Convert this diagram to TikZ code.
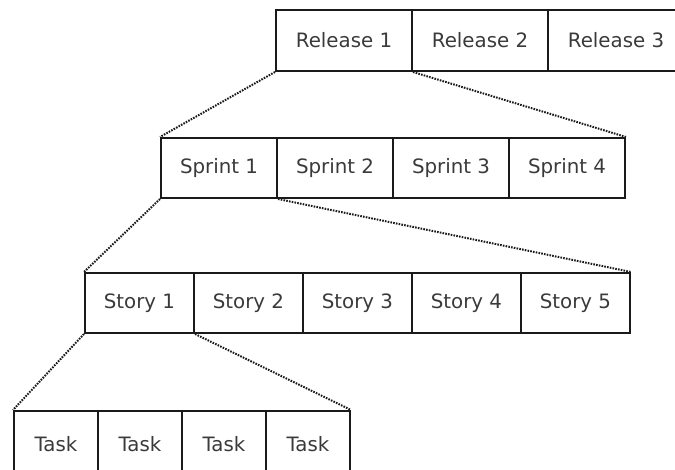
\documentclass[tikz,border=0pt]{standalone}
\usepackage{fontspec}
\setmainfont{DejaVu Sans}
\definecolor{boxtext}{HTML}{3A3A3A}
\definecolor{boxline}{HTML}{1A1A1A}
\begin{document}
\begin{tikzpicture}[x=1pt,y=-1pt,
  cell/.style={draw=boxline, line width=2pt, rectangle, inner sep=0pt,
    anchor=north west, text=boxtext, font=\fontsize{19.8}{22}\selectfont},
  relcell/.style={cell, minimum width=136pt, minimum height=61pt},
  sprcell/.style={cell, minimum width=116pt, minimum height=60pt},
  stocell/.style={cell, minimum width=109pt, minimum height=60pt},
  taskcell/.style={cell, minimum width=84pt, minimum height=66pt},
  link/.style={draw=boxline, line width=2pt, dash pattern=on 1.6pt off 1.2pt}]
\useasboundingbox (0,0) rectangle (675,470);
\clip (0,0) rectangle (675,470);

% releases
\node[relcell] (r1) at (275,9) {Release 1};
\node[relcell] (r2) at (411,9) {Release 2};
\node[relcell] (r3) at (547,9) {Release 3};

% sprints
\node[sprcell] (s1) at (160,137) {Sprint 1};
\node[sprcell] (s2) at (276,137) {Sprint 2};
\node[sprcell] (s3) at (392,137) {Sprint 3};
\node[sprcell] (s4) at (508,137) {Sprint 4};

% stories
\node[stocell] (st1) at (84,272) {Story 1};
\node[stocell] (st2) at (193,272) {Story 2};
\node[stocell] (st3) at (302,272) {Story 3};
\node[stocell] (st4) at (411,272) {Story 4};
\node[stocell] (st5) at (520,272) {Story 5};

% tasks
\node[taskcell] (t1) at (13,410) {Task};
\node[taskcell] (t2) at (97,410) {Task};
\node[taskcell] (t3) at (181,410) {Task};
\node[taskcell] (t4) at (265,410) {Task};

% zoom-out connectors
\draw[link] (r1.south west) -- (s1.north west);
\draw[link] (r1.south east) -- (s4.north east);
\draw[link] (s1.south west) -- (st1.north west);
\draw[link] (s1.south east) -- (st5.north east);
\draw[link] (st1.south west) -- (t1.north west);
\draw[link] (st1.south east) -- (t4.north east);
\end{tikzpicture}
\end{document}
